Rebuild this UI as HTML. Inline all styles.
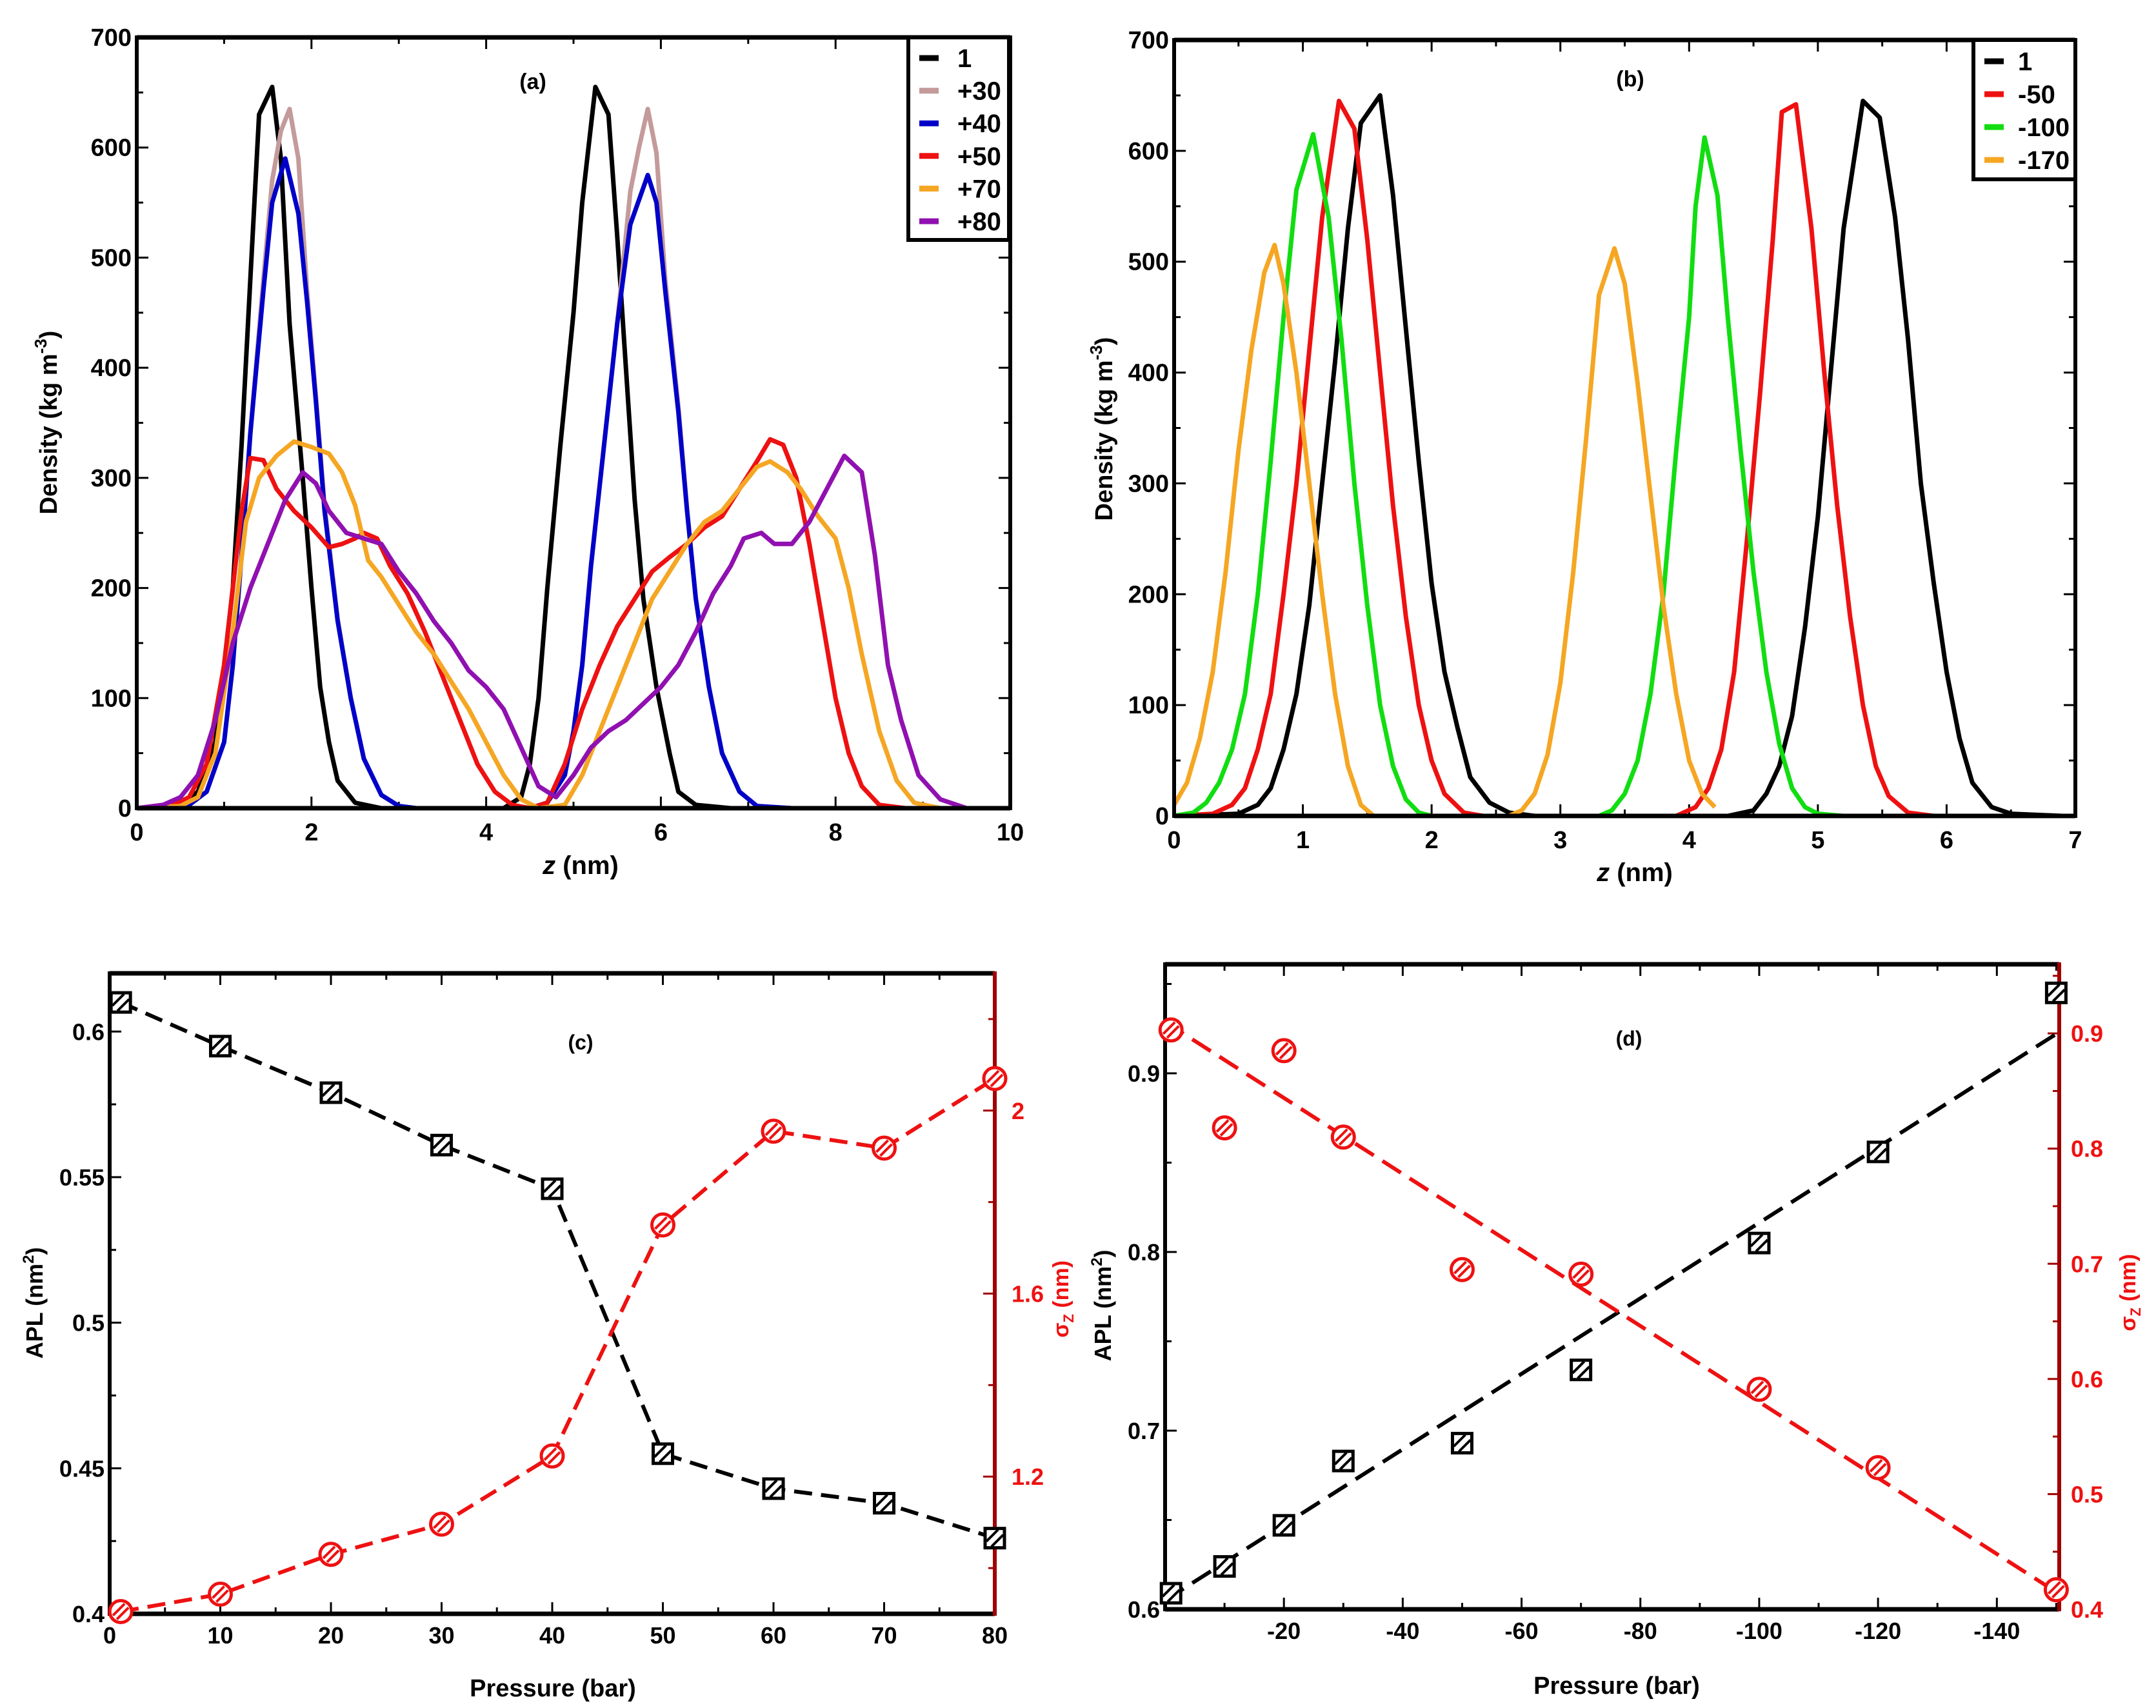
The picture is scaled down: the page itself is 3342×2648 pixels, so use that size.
<!DOCTYPE html>
<html><head><meta charset="utf-8"><style>
html,body{margin:0;padding:0;background:#fff;}
svg{display:block;font-family:"Liberation Sans",sans-serif;}
</style></head><body>
<svg id="fig" width="3342" height="2648" viewBox="0 0 3342 2648" xmlns="http://www.w3.org/2000/svg">
<rect x="0" y="0" width="3342" height="2648" fill="#fff"/>
</svg>
<script>
// ---------- Panel (a) data ----------
const aNames = ["1","+30","+40","+50","+70","+80"];
const aColors = ["#000000","#c49a9a","#0000c8","#ee1111","#f5a623","#9010b0"];
const a1 = [[0,0],[0.5,2],[0.7,15],[0.9,60],[1.1,200],[1.2,330],[1.3,480],[1.4,630],[1.55,655],[1.65,590],[1.75,440],[1.9,300],[2.0,200],[2.1,110],[2.2,60],[2.3,25],[2.5,5],[2.8,0],[4.2,0],[4.4,10],[4.5,40],[4.6,100],[4.7,200],[4.85,330],[5.0,450],[5.1,550],[5.25,655],[5.4,630],[5.5,520],[5.6,400],[5.7,280],[5.8,190],[5.95,110],[6.1,50],[6.2,15],[6.4,3],[6.8,0],[9.7,0]];
const a30 = [[0,0],[0.6,3],[0.8,15],[1.0,60],[1.1,130],[1.2,230],[1.3,340],[1.45,480],[1.55,570],[1.65,615],[1.75,635],[1.85,590],[1.95,470],[2.05,375],[2.15,275],[2.3,172],[2.45,100],[2.6,45],[2.8,12],[3.0,2],[3.2,0],[4.5,0],[4.7,5],[4.9,30],[5.0,70],[5.1,130],[5.2,220],[5.35,330],[5.5,440],[5.65,560],[5.75,600],[5.85,635],[5.95,595],[6.05,480],[6.2,365],[6.3,272],[6.4,190],[6.55,110],[6.7,50],[6.9,15],[7.1,2],[7.5,0]];
const a40 = [[0,0],[0.6,3],[0.8,15],[1.0,60],[1.1,130],[1.2,230],[1.3,340],[1.45,470],[1.55,550],[1.7,590],[1.85,540],[1.95,460],[2.05,370],[2.15,270],[2.3,170],[2.45,100],[2.6,45],[2.8,12],[3.0,2],[3.2,0],[4.5,0],[4.7,5],[4.9,30],[5.0,70],[5.1,130],[5.2,220],[5.35,330],[5.5,440],[5.65,530],[5.85,575],[5.95,550],[6.05,470],[6.2,360],[6.3,270],[6.4,190],[6.55,110],[6.7,50],[6.9,15],[7.1,2],[7.5,0]];
const a50 = [[0,0],[0.4,2],[0.6,10],[0.8,40],[1.0,130],[1.1,200],[1.2,270],[1.3,318],[1.45,316],[1.6,290],[1.8,270],[2.0,255],[2.2,237],[2.35,240],[2.5,245],[2.6,250],[2.75,245],[2.9,220],[3.1,195],[3.3,160],[3.5,120],[3.7,80],[3.9,40],[4.1,15],[4.3,3],[4.5,0],[4.7,5],[4.9,40],[5.1,90],[5.3,130],[5.5,165],[5.7,190],[5.9,215],[6.1,228],[6.3,240],[6.5,255],[6.7,265],[6.9,290],[7.1,315],[7.25,335],[7.4,330],[7.55,300],[7.7,240],[7.85,170],[8.0,100],[8.15,50],[8.3,20],[8.5,3],[8.8,0]];
const a70 = [[0,0],[0.5,2],[0.7,10],[0.9,50],[1.1,160],[1.25,260],[1.4,300],[1.6,320],[1.8,333],[2.0,328],[2.2,322],[2.35,305],[2.5,275],[2.65,225],[2.8,210],[3.0,185],[3.2,160],[3.4,140],[3.6,115],[3.8,90],[4.0,60],[4.2,30],[4.4,8],[4.6,0],[4.9,3],[5.1,30],[5.3,70],[5.5,110],[5.7,150],[5.9,190],[6.1,215],[6.3,240],[6.5,260],[6.7,270],[6.9,290],[7.1,310],[7.25,315],[7.45,305],[7.6,290],[7.8,265],[8.0,245],[8.15,200],[8.3,140],[8.5,70],[8.7,25],[8.9,5],[9.2,0]];
const a80 = [[0,0],[0.3,3],[0.5,10],[0.7,30],[0.9,80],[1.1,150],[1.3,200],[1.5,240],[1.7,280],[1.9,305],[2.05,295],[2.2,270],[2.4,250],[2.6,245],[2.8,240],[3.0,215],[3.2,195],[3.4,170],[3.6,150],[3.8,125],[4.0,110],[4.2,90],[4.4,55],[4.6,20],[4.8,10],[5.0,30],[5.2,55],[5.4,70],[5.6,80],[5.8,95],[6.0,110],[6.2,130],[6.4,160],[6.6,195],[6.8,220],[6.95,245],[7.15,250],[7.3,240],[7.5,240],[7.7,260],[7.9,290],[8.1,320],[8.3,305],[8.45,230],[8.6,130],[8.75,80],[8.95,30],[9.2,8],[9.5,0],[9.7,0]];
const aSeries = [a1,a30,a40,a50,a70,a80];
const aXTicks = [0,2,4,6,8,10];
const aYTicks = [0,100,200,300,400,500,600,700];

// ---------- Panel (b) data ----------
const bNames = ["1","-50","-100","-170"];
const bColors = ["#000000","#ee1111","#11dd11","#f5a623"];
const b1 = [[0,0],[0.5,2],[0.65,10],[0.75,25],[0.85,60],[0.95,110],[1.05,190],[1.15,300],[1.25,410],[1.35,530],[1.45,625],[1.6,650],[1.7,560],[1.8,440],[1.9,320],[2.0,210],[2.1,130],[2.2,80],[2.3,35],[2.45,12],[2.6,3],[2.8,0],[4.3,0],[4.5,5],[4.6,20],[4.7,45],[4.8,90],[4.9,170],[5.0,270],[5.1,400],[5.2,530],[5.35,645],[5.48,630],[5.6,540],[5.7,430],[5.8,300],[5.9,210],[6.0,130],[6.1,70],[6.2,30],[6.35,8],[6.5,2],[6.9,0]];
const b50 = [[0,0],[0.3,2],[0.45,10],[0.55,25],[0.65,60],[0.75,110],[0.85,200],[0.95,300],[1.05,420],[1.15,540],[1.28,645],[1.4,620],[1.5,520],[1.6,400],[1.7,280],[1.8,180],[1.9,100],[2.0,50],[2.1,20],[2.25,3],[2.4,0],[3.9,0],[4.05,8],[4.15,25],[4.25,60],[4.35,130],[4.45,250],[4.55,380],[4.65,520],[4.72,635],[4.83,642],[4.95,530],[5.05,400],[5.15,280],[5.25,180],[5.35,100],[5.45,45],[5.55,18],[5.7,3],[5.9,0]];
const b100 = [[0,0],[0.15,3],[0.25,12],[0.35,30],[0.45,60],[0.55,110],[0.65,200],[0.75,320],[0.85,450],[0.95,565],[1.08,615],[1.2,540],[1.3,430],[1.4,300],[1.5,190],[1.6,100],[1.7,45],[1.8,15],[1.9,3],[2.0,0],[3.3,0],[3.4,5],[3.5,20],[3.6,50],[3.7,110],[3.8,200],[3.9,330],[4.0,450],[4.05,550],[4.12,612],[4.22,560],[4.3,450],[4.4,330],[4.5,220],[4.6,130],[4.7,65],[4.8,25],[4.9,8],[5.0,2],[5.2,0]];
const b170 = [[0,10],[0.1,30],[0.2,70],[0.3,130],[0.4,220],[0.5,330],[0.6,420],[0.7,490],[0.78,515],[0.85,480],[0.95,400],[1.05,300],[1.15,200],[1.25,110],[1.35,45],[1.45,10],[1.55,0],[2.6,0],[2.7,5],[2.8,20],[2.9,55],[3.0,120],[3.1,220],[3.2,340],[3.3,470],[3.42,512],[3.5,480],[3.6,390],[3.7,290],[3.8,190],[3.9,110],[4.0,50],[4.1,20],[4.2,8]];
const bSeries = [b1,b50,b100,b170];
const bXTicks = [0,1,2,3,4,5,6,7];
const bYTicks = [0,100,200,300,400,500,600,700];

// ---------- Panel (c) data ----------
const cPressure = [1,10,20,30,40,50,60,70,80];
const cAPL = [0.61,0.595,0.579,0.561,0.546,0.455,0.443,0.438,0.426];
const cSigma = [0.905,0.943,1.03,1.096,1.245,1.75,1.955,1.918,2.07];
const cXTicks = [0,10,20,30,40,50,60,70,80];
const cYTicks = [0.4,0.45,0.5,0.55,0.6];
const cYTickLabels = ["0.4","0.45","0.5","0.55","0.6"];
const cRTicks = [1.2,1.6,2.0];
const cRTickLabels = ["1.2","1.6","2"];

// ---------- Panel (d) data ----------
const dPressure = [-1,-10,-20,-30,-50,-70,-100,-120,-150];
const dAPL = [0.609,0.624,0.647,0.683,0.693,0.734,0.805,0.856,0.945];
const dSigma = [0.903,0.818,0.885,0.810,0.695,0.691,0.591,0.523,0.417];
const dAPLFit = [0.605,0.922];
const dSigmaFit = [0.91,0.415];
const dFitX = [0,-150];
const dXTicks = [-20,-40,-60,-80,-100,-120,-140];
const dYTicks = [0.6,0.7,0.8,0.9];
const dRTicks = [0.4,0.5,0.6,0.7,0.8,0.9];

// ---------- drawing ----------
const NS = "http://www.w3.org/2000/svg";
const svg = document.getElementById("fig");
function el(tag, attrs, parent){
  const e = document.createElementNS(NS, tag);
  for (const k in attrs) e.setAttribute(k, attrs[k]);
  (parent||svg).appendChild(e);
  return e;
}
function txt(s, x, y, size, anchor, color, parent, rot){
  const t = el("text", {x:x, y:y, "font-size":size, "font-weight":"bold", "text-anchor":anchor||"middle", fill:color||"#000"}, parent);
  if (rot) t.setAttribute("transform", "rotate(" + rot + " " + x + " " + y + ")");
  t.textContent = s;
  return t;
}
function makeScale(d0, d1, r0, r1){ return v => r0 + (v - d0) / (d1 - d0) * (r1 - r0); }

function frame(g, L, T, R, B, rightColor){
  el("line",{x1:L,y1:T,x2:R,y2:T,stroke:"#000","stroke-width":7},g);
  el("line",{x1:L,y1:B,x2:R,y2:B,stroke:"#000","stroke-width":7},g);
  el("line",{x1:L,y1:T-3,x2:L,y2:B+3,stroke:"#000","stroke-width":6},g);
  el("line",{x1:R,y1:T-3,x2:R,y2:B+3,stroke:rightColor||"#000","stroke-width":6},g);
}
function xTicks(g, sx, T, B, from, to, step, len){
  for (let v = from; step>0 ? v <= to + 1e-9 : v >= to - 1e-9; v += step){
    const x = sx(v);
    el("line",{x1:x,y1:B,x2:x,y2:B-len,stroke:"#000","stroke-width":3},g);
    el("line",{x1:x,y1:T,x2:x,y2:T+len,stroke:"#000","stroke-width":3},g);
  }
}
function yTicks(g, sy, L, R, from, to, step, len, both, color){
  for (let v = from; v <= to + 1e-9; v += step){
    const y = sy(v);
    if (L !== null) el("line",{x1:L,y1:y,x2:L+len,y2:y,stroke:"#000","stroke-width":3},g);
    if (both) el("line",{x1:R,y1:y,x2:R-len,y2:y,stroke:color||"#000","stroke-width":3},g);
  }
}
function polyline(g, pts, sx, sy, color, w, dash){
  const p = pts.map(q => sx(q[0]).toFixed(1) + "," + sy(q[1]).toFixed(1)).join(" ");
  const a = {points:p, fill:"none", stroke:color, "stroke-width":w, "stroke-linejoin":"round"};
  if (dash) a["stroke-dasharray"] = dash;
  return el("polyline", a, g);
}
function squareMarker(g, x, y){
  const m = el("g", {}, g);
  
  
  el("rect",{x:x-15,y:y-15,width:30,height:30,fill:"#fff",stroke:"#000","stroke-width":5},m);
  el("line",{x1:x-13,y1:y+5,x2:x+5,y2:y-13,stroke:"#000","stroke-width":4},m);
  el("line",{x1:x-5,y1:y+13,x2:x+13,y2:y-5,stroke:"#000","stroke-width":4},m);
}
function circleMarker(g, x, y){
  const m = el("g", {}, g);
  
  
  el("circle",{cx:x,cy:y,r:17,fill:"#fff",stroke:"#ee1111","stroke-width":5},m);
  el("line",{x1:x-12,y1:y+6,x2:x+6,y2:y-12,stroke:"#ee1111","stroke-width":4},m);
  el("line",{x1:x-6,y1:y+12,x2:x+12,y2:y-6,stroke:"#ee1111","stroke-width":4},m);
}

// ===== Panel (a) =====
(function(){
  const L=212,R=1566,T=58,B=1253;
  const g = el("g",{});
  
  
  const sx = makeScale(0,10,L,R), sy = makeScale(0,700,B,T);
  xTicks(g,sx,T,B,0,10,2,18); xTicks(g,sx,T,B,1,9,2,10);
  yTicks(g,sy,L,R,0,700,100,18,true); yTicks(g,sy,L,R,50,650,100,10,true);
  aSeries.forEach((s,i)=>{
    const p = polyline(g,s,sx,sy,aColors[i],7);
    
    
  });
  frame(g,L,T,R,B);
  aXTicks.forEach(v=>{ const t=txt(String(v),sx(v),B+50,38,"middle","#000",g);   });
  aYTicks.forEach(v=>{ const t=txt(String(v),L-8,sy(v)+13,38,"end","#000",g);   });
  const ttl = txt("(a)",826,138,34,"middle","#000",g);
   
  const xt = el("text",{x:900,y:1355,"font-size":40,"font-weight":"bold","text-anchor":"middle"},g);
   
  xt.innerHTML = '<tspan font-style="italic">z</tspan> (nm)';
  const yt = el("text",{x:88,y:655,"font-size":38,"font-weight":"bold","text-anchor":"middle",transform:"rotate(-90 88 655)"},g);
   
  yt.innerHTML = 'Density (kg m<tspan dy="-16" font-size="26">-3</tspan><tspan dy="16">)</tspan>';
  // legend
  const lg = el("g",{},g);
   
  el("rect",{x:1408,y:58,width:156,height:314,fill:"#fff",stroke:"#000","stroke-width":6},lg);
  aNames.forEach((n,i)=>{
    const y = 90 + i*50.6;
    const e = el("g",{},lg);
     
    el("line",{x1:1425,y1:y,x2:1455,y2:y,stroke:aColors[i],"stroke-width":9},e);
    txt(n,1484,y+14,40,"start","#000",e);
  });
})();

// ===== Panel (b) =====
(function(){
  const L=1820,R=3217,T=62,B=1265;
  const g = el("g",{});
  
  
  const sx = makeScale(0,7,L,R), sy = makeScale(0,700,B,T);
  xTicks(g,sx,T,B,0,7,1,18); xTicks(g,sx,T,B,0.5,6.5,1,10);
  yTicks(g,sy,L,R,0,700,100,18,true); yTicks(g,sy,L,R,50,650,100,10,true);
  bSeries.forEach((s,i)=>{
    const p = polyline(g,s,sx,sy,bColors[i],7);
    
    
  });
  frame(g,L,T,R,B);
  bXTicks.forEach(v=>{ const t=txt(String(v),sx(v),B+50,38,"middle","#000",g);   });
  bYTicks.forEach(v=>{ const t=txt(String(v),L-8,sy(v)+13,38,"end","#000",g);   });
  const ttl = txt("(b)",2527,134,34,"middle","#000",g);
   
  const xt = el("text",{x:2534,y:1366,"font-size":40,"font-weight":"bold","text-anchor":"middle"},g);
   
  xt.innerHTML = '<tspan font-style="italic">z</tspan> (nm)';
  const yt = el("text",{x:1724,y:665,"font-size":38,"font-weight":"bold","text-anchor":"middle",transform:"rotate(-90 1724 665)"},g);
   
  yt.innerHTML = 'Density (kg m<tspan dy="-16" font-size="26">-3</tspan><tspan dy="16">)</tspan>';
  const lg = el("g",{},g);
   
  el("rect",{x:3059,y:62,width:158,height:216,fill:"#fff",stroke:"#000","stroke-width":6},lg);
  bNames.forEach((n,i)=>{
    const y = 95 + i*51;
    const e = el("g",{},lg);
     
    el("line",{x1:3076,y1:y,x2:3106,y2:y,stroke:bColors[i],"stroke-width":9},e);
    txt(n,3128,y+14,40,"start","#000",e);
  });
})();

// ===== Panel (c) =====
(function(){
  const L=170,R=1542,T=1509,B=2502;
  const g = el("g",{});
  
  
  const sx = makeScale(0,80,L,R), sy = makeScale(0.4,0.62,B,T), sr = makeScale(0.9,2.3,B,T);
  xTicks(g,sx,T,B,0,80,10,18); xTicks(g,sx,T,B,5,75,10,10);
  yTicks(g,sy,L,R,0.4,0.6,0.05,18,false); yTicks(g,sy,L,R,0.425,0.6,0.05,10,false);
  yTicks(g,sr,null,R,1.2,2.2,0.4,18,true,"#a00000"); yTicks(g,sr,null,R,1.0,2.2,0.4,10,true,"#a00000");
  const lp = polyline(g, cPressure.map((p,i)=>[p,cAPL[i]]), sx, sy, "#000", 6, "28 14");
   
  const sp = polyline(g, cPressure.map((p,i)=>[p,cSigma[i]]), sx, sr, "#ee1111", 6, "28 14");
   
  frame(g,L,T,R,B,"#a00000");
  cPressure.forEach((p,i)=>{ circleMarker(g,sx(p),sr(cSigma[i])); });
  cPressure.forEach((p,i)=>{ squareMarker(g,sx(p),sy(cAPL[i])); });
  cXTicks.forEach(v=>{ const t=txt(String(v),sx(v),B+46,36,"middle","#000",g);   });
  cYTicks.forEach((v,i)=>{ const t=txt(cYTickLabels[i],L-8,sy(v)+13,36,"end","#000",g);   });
  cRTicks.forEach((v,i)=>{ const t=txt(cRTickLabels[i],R+26,sr(v)+13,36,"start","#ee1111",g);   });
  const ttl = txt("(c)",900,1627,32,"middle","#000",g);
   
  const xt = txt("Pressure (bar)",857,2630,38,"middle","#000",g);
   
  const yt = el("text",{x:66,y:2020,"font-size":36,"font-weight":"bold","text-anchor":"middle",transform:"rotate(-90 66 2020)"},g);
   
  yt.innerHTML = 'APL (nm<tspan dy="-14" font-size="24">2</tspan><tspan dy="14">)</tspan>';
  const rt = el("text",{x:1656,y:2014,"font-size":34,"font-weight":"bold","text-anchor":"middle",fill:"#ee1111",transform:"rotate(-90 1656 2014)"},g);
   
  rt.innerHTML = 'σ<tspan dy="8" font-size="22">Z</tspan><tspan dy="-8"> (nm)</tspan>';
})();

// ===== Panel (d) =====
(function(){
  const L=1806,R=3192,T=1495,B=2495;
  const g = el("g",{});
  
  
  const sx = makeScale(0,-150.5,L,R), sy = makeScale(0.6,0.961,B,T), sr = makeScale(0.4,0.96,B,T);
  xTicks(g,sx,T,B,-20,-140,-20,18); xTicks(g,sx,T,B,-10,-150,-20,10);
  yTicks(g,sy,L,R,0.6,0.9,0.1,18,false); yTicks(g,sy,L,R,0.65,0.95,0.1,10,false);
  yTicks(g,sr,null,R,0.4,0.9,0.1,18,true,"#a00000"); yTicks(g,sr,null,R,0.45,0.95,0.1,10,true,"#a00000");
  const lp = polyline(g, dFitX.map((p,i)=>[p,dAPLFit[i]]), sx, sy, "#000", 6, "34 16");
   
  const sp = polyline(g, dFitX.map((p,i)=>[p,dSigmaFit[i]]), sx, sr, "#ee1111", 6, "34 16");
   
  frame(g,L,T,R,B,"#a00000");
  dPressure.forEach((p,i)=>{ circleMarker(g,sx(p),sr(dSigma[i])); });
  dPressure.forEach((p,i)=>{ squareMarker(g,sx(p),sy(dAPL[i])); });
  dXTicks.forEach(v=>{ const t=txt(String(v),sx(v),B+46,36,"middle","#000",g);   });
  dYTicks.forEach(v=>{ const t=txt(v.toFixed(1),L-8,sy(v)+13,36,"end","#000",g);   });
  dRTicks.forEach(v=>{ const t=txt(v.toFixed(1),R+18,sr(v)+13,36,"start","#ee1111",g);   });
  const ttl = txt("(d)",2525,1621,32,"middle","#000",g);
   
  const xt = txt("Pressure (bar)",2506,2626,38,"middle","#000",g);
   
  const yt = el("text",{x:1722,y:2024,"font-size":36,"font-weight":"bold","text-anchor":"middle",transform:"rotate(-90 1722 2024)"},g);
   
  yt.innerHTML = 'APL (nm<tspan dy="-14" font-size="24">2</tspan><tspan dy="14">)</tspan>';
  const rt = el("text",{x:3310,y:2004,"font-size":34,"font-weight":"bold","text-anchor":"middle",fill:"#ee1111",transform:"rotate(-90 3310 2004)"},g);
   
  rt.innerHTML = 'σ<tspan dy="8" font-size="22">Z</tspan><tspan dy="-8"> (nm)</tspan>';
})();
</script>
</body></html>
